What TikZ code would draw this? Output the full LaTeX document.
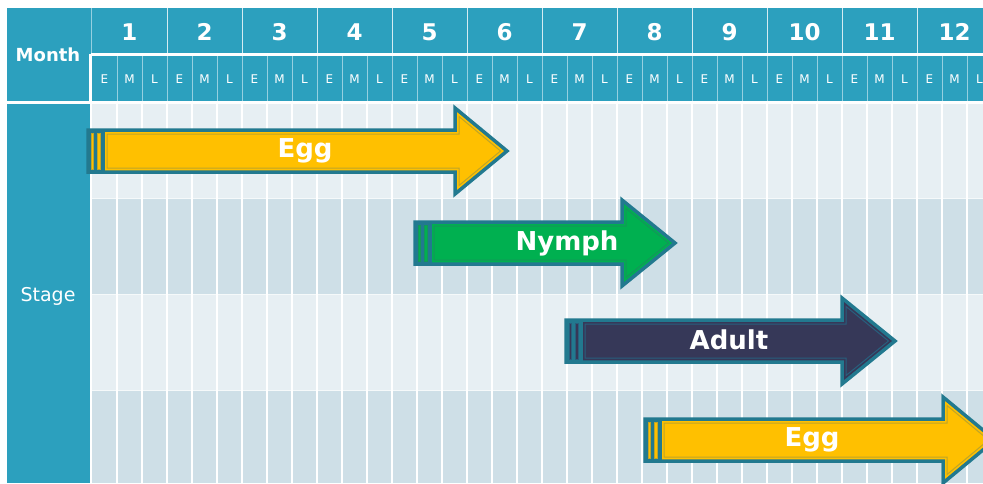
\documentclass[tikz,border=0pt]{standalone}
\usepackage{fontspec}
\setmainfont{DejaVu Sans}
\definecolor{headteal}{RGB}{44,160,190}
\definecolor{cellline}{RGB}{150,208,224}
\definecolor{rowlight}{RGB}{231,239,243}
\definecolor{rowdark}{RGB}{206,223,231}
\definecolor{edgeteal}{RGB}{34,121,143}
\definecolor{eggfill}{RGB}{255,192,0}
\definecolor{eggline}{RGB}{190,165,40}
\definecolor{nymphfill}{RGB}{0,176,80}
\definecolor{nymphline}{RGB}{20,150,90}
\definecolor{adultfill}{RGB}{54,56,88}
\definecolor{adultline}{RGB}{40,95,125}

% striped arrow: x start, x head, x tip, y centre, fill, inner line
\newcommand{\stagearrow}[6]{%
  \fill[edgeteal] (#1,#4-21) -- (#2,#4-21) -- (#2,#4-43) -- (#3,#4) -- (#2,#4+43) -- (#2,#4+21) -- (#1,#4+21) -- cycle;
  \fill[#5] (#1+17,#4-21) -- (#2,#4-21) -- (#2,#4-43) -- (#3,#4) -- (#2,#4+43) -- (#2,#4+21) -- (#1+17,#4+21) -- cycle;
  \filldraw[fill=#5, draw=#6, line width=0.8pt] (#1+3.5,#4-18) rectangle (#1+5,#4+18);
  \filldraw[fill=#5, draw=#6, line width=0.8pt] (#1+9.5,#4-18) rectangle (#1+12.5,#4+18);
  \draw[#6, line width=1pt] (#1+19,#4-17) -- (#2+4,#4-17) -- (#2+4,#4-34.5) -- (#3-6.5,#4) -- (#2+4,#4+34.5) -- (#2+4,#4+17) -- (#1+19,#4+17) -- cycle;
  \draw[edgeteal, line width=3.5pt, line join=miter] (#1,#4-21) -- (#2,#4-21) -- (#2,#4-43) -- (#3,#4) -- (#2,#4+43) -- (#2,#4+21) -- (#1,#4+21) -- cycle;
}

\begin{document}
\begin{tikzpicture}[x=1pt, y=-1pt,
    headtext/.style={text=white, font=\bfseries\fontsize{18}{20}\selectfont},
    monthnum/.style={text=white, font=\bfseries\fontsize{23}{26}\selectfont},
    eml/.style={text=white, font=\fontsize{12}{14}\selectfont},
    stagetext/.style={text=white, font=\bfseries\fontsize{26}{30}\selectfont}]
  \clip (0,0) rectangle (983,483);
  \fill[white] (0,0) rectangle (983,483);

  % Header
  \fill[headteal] (7,8) rectangle (983,101);
  \draw[white, line width=3pt] (90.5,54) -- (983,54);
  \draw[white, line width=3pt] (90.5,54) -- (90.5,102);
  \draw[white, line width=3pt] (0,102.5) -- (983,102.5);
  \draw[cellline, line width=1pt] (91.5,8) -- (91.5,52.5);
  \foreach \m in {1,...,12} {
    \draw[white!80!headteal, line width=1pt] ({92+75*\m},8) -- ({92+75*\m},52.5);
    \node[monthnum] (month-\m) at ({54.5+75*\m},32) {\m};
  }
  \foreach \j in {1,...,36} {
    \draw[cellline, line width=1pt] ({92+25*\j},56) -- ({92+25*\j},101);
  }
  \foreach \m in {0,...,11} {
    \node[eml] (e-\m) at ({104.5+75*\m},79) {E};
    \node[eml] (m-\m) at ({129.5+75*\m},79) {M};
    \node[eml] (l-\m) at ({154.5+75*\m},79) {L};
  }
  \node[headtext] (month) at (48,55) {Month};

  % Stage column and rows
  \fill[headteal] (7,104) rectangle (90,483);
  \node[text=white, font=\fontsize{19}{22}\selectfont] (stage) at (48,296) {Stage};
  \fill[rowlight] (92,104) rectangle (983,198.5);
  \fill[rowdark] (92,198.5) rectangle (983,294);
  \fill[rowlight] (92,294) rectangle (983,390.5);
  \fill[rowdark] (92,390.5) rectangle (983,483);
  \foreach \y in {198.5,294,390.5} {
    \draw[white!60!rowlight, line width=1pt] (92,\y) -- (983,\y);
  }
  \foreach \j in {1,...,36} {
    \draw[white, line width=1.5pt] ({92+25*\j},104) -- ({92+25*\j},483);
  }

  % Arrows
  \stagearrow{88}{455}{507}{151}{eggfill}{eggline}
  \node[stagetext] (egg1) at (305,151) {Egg};
  \stagearrow{415}{622}{675}{243}{nymphfill}{nymphline}
  \node[stagetext] (nymph) at (567,243) {Nymph};
  \stagearrow{566}{842}{895}{341}{adultfill}{adultline}
  \node[stagetext] (adult) at (729,340) {Adult};
  \stagearrow{645}{943}{995}{440}{eggfill}{eggline}
  \node[stagetext] (egg2) at (812,440) {Egg};
\end{tikzpicture}
\end{document}
